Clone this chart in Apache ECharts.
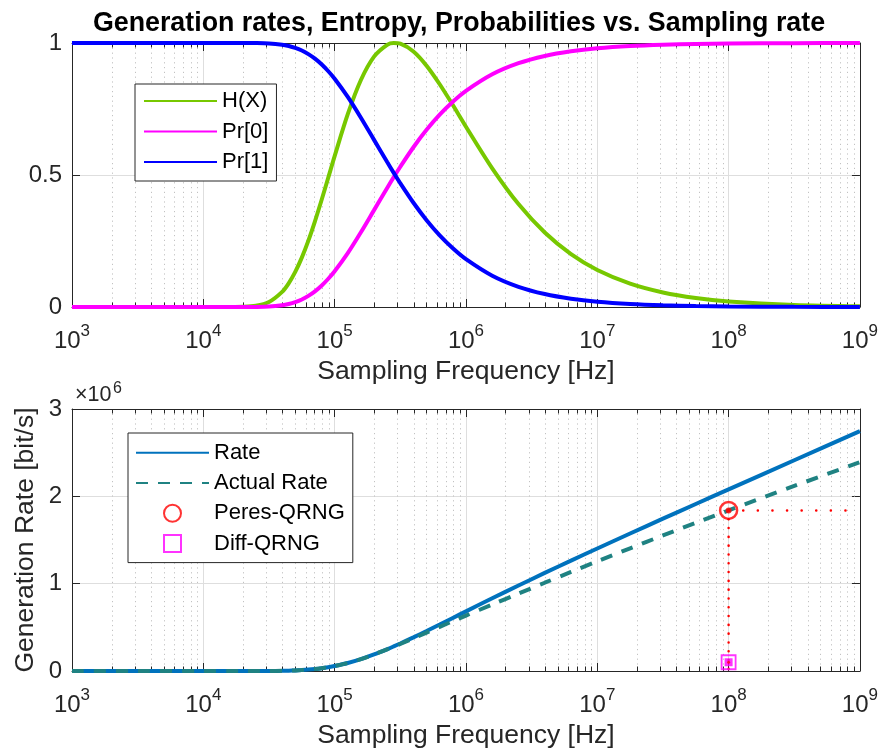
<!DOCTYPE html>
<html>
<head>
<meta charset="utf-8">
<script src="https://cdn.jsdelivr.net/npm/echarts@6/dist/echarts.min.js"></script>
<style>
html, body { margin: 0; padding: 0; background: #fff; }
#chart { width: 881px; height: 751px; }
</style>
</head>
<body>
<div id="chart"></div>
<script>
// sampling frequency [Hz]
const freq = [1000, 3162, 10000, 15849, 19953, 25119, 31623, 39811, 44668, 50119,
    56234, 63096, 70795, 79433, 89125, 100000, 125893, 158489, 199526, 251189,
    281838, 316228, 398107, 501187, 630957, 794328, 1000000, 1584893, 2511886, 3981072,
    6309573, 10000000, 17782794, 31622777, 56234133, 100000000, 316227766, 1000000000];
const entropy = [0, 0, 0, 0.0001, 0.0007, 0.0045, 0.0189, 0.0572, 0.0898, 0.1328,
    0.1870, 0.2514, 0.3247, 0.4043, 0.4877, 0.5717, 0.7303, 0.8598, 0.9484, 0.9930,
    0.9998, 0.9972, 0.9679, 0.9140, 0.8438, 0.7649, 0.6829, 0.5253, 0.3898, 0.2821,
    0.2004, 0.1403, 0.0885, 0.0552, 0.0340, 0.0208, 0.0076, 0.0027];
const prob0 = [0, 0, 0, 0, 0, 0.0003, 0.0018, 0.0066, 0.0114, 0.0185,
    0.0285, 0.0420, 0.0593, 0.0806, 0.1060, 0.1353, 0.2042, 0.2831, 0.3670, 0.4510,
    0.4918, 0.5313, 0.6051, 0.6710, 0.7284, 0.7774, 0.8187, 0.8814, 0.9235, 0.9510,
    0.9688, 0.9802, 0.9888, 0.9937, 0.9964, 0.9980, 0.9994, 0.9998];
const prob1 = [1, 1, 1, 1, 1, 0.9997, 0.9982, 0.9934, 0.9886, 0.9815,
    0.9715, 0.9580, 0.9407, 0.9194, 0.8940, 0.8647, 0.7958, 0.7169, 0.6330, 0.5490,
    0.5082, 0.4687, 0.3949, 0.3290, 0.2716, 0.2226, 0.1813, 0.1186, 0.0765, 0.0490,
    0.0312, 0.0198, 0.0112, 0.0063, 0.0036, 0.0020, 0.0006, 0.0002];
// bit/s
const rate = [0, 0, 0, 1, 14, 113, 598, 2277, 4011, 6656,
    10516, 15862, 22987, 32115, 43466, 57170, 91940, 136270, 189230, 249430,
    281780, 315340, 385330, 458090, 532400, 607580, 682900, 832550, 979130, 1123060,
    1264440, 1403200, 1574480, 1744310, 1911960, 2079600, 2413130, 2745900];
const actualRate = [0, 0, 0, 1, 14, 113, 598, 2277, 4011, 6656,
    10516, 15862, 22987, 32115, 43466, 57170, 91940, 136270, 189230, 246900,
    277500, 309000, 373800, 439800, 505800, 571100, 635100, 761800, 886100, 1010800,
    1134200, 1255900, 1404400, 1552400, 1695900, 1838400, 2118700, 2391700];
const minorTicks = [2e3, 3e3, 4e3, 5e3, 6e3, 7e3, 8e3, 9e3,
    2e4, 3e4, 4e4, 5e4, 6e4, 7e4, 8e4, 9e4,
    2e5, 3e5, 4e5, 5e5, 6e5, 7e5, 8e5, 9e5,
    2e6, 3e6, 4e6, 5e6, 6e6, 7e6, 8e6, 9e6,
    2e7, 3e7, 4e7, 5e7, 6e7, 7e7, 8e7, 9e7,
    2e8, 3e8, 4e8, 5e8, 6e8, 7e8, 8e8, 9e8];
const peresPoint = [1e8, 1.839e6];
const diffPoint = [1e8, 0.10e6];
const guideH = [[1e8, 1.839e6], [1e9, 1.839e6]];
const guideV = [[1e8, 1.839e6], [1e8, 0]];

const axisColor = '#262626';
const fontFam = '"Liberation Sans", Arial, Helvetica, sans-serif';

const pow10Rich = {
    b: { fontSize: 24, lineHeight: 31, verticalAlign: 'bottom', color: axisColor, fontFamily: fontFam },
    s: { fontSize: 17, lineHeight: 19.5, verticalAlign: 'top', color: axisColor, fontFamily: fontFam }
};

const logAxis = (gridIndex, name) => ({
    type: 'log', logBase: 10, gridIndex: gridIndex, min: 1e3, max: 1e9, splitNumber: 6,
    name: name, nameLocation: 'middle', nameGap: 51, nameMoveOverlap: false,
    nameTextStyle: { fontSize: 26.5, color: axisColor, fontFamily: fontFam },
    axisLine: { show: true, onZero: false, lineStyle: { color: axisColor, width: 1 } },
    axisTick: { show: true, inside: true, length: 8, lineStyle: { color: axisColor } },
    axisLabel: {
        formatter: v => '{b|10}{s|' + Math.round(Math.log10(v)) + '}',
        rich: pow10Rich, margin: 15.5, showMinLabel: true, showMaxLabel: true
    },
    splitLine: { show: true, lineStyle: { color: '#dedede', width: 1 } }
});

const topEdgeAxis = (gridIndex) => ({
    type: 'log', logBase: 10, gridIndex: gridIndex, min: 1e3, max: 1e9, splitNumber: 6,
    position: 'top',
    axisLine: { show: true, onZero: false, lineStyle: { color: axisColor, width: 1 } },
    axisTick: { show: true, inside: true, length: 8, lineStyle: { color: axisColor } },
    axisLabel: { show: false },
    splitLine: { show: false }
});

const valueAxis = (gridIndex, max, interval, fmt, name) => ({
    type: 'value', gridIndex: gridIndex, min: 0, max: max, interval: interval,
    name: name, nameLocation: 'middle', nameGap: 33, nameMoveOverlap: false,
    nameTextStyle: { fontSize: 26.5, color: axisColor, fontFamily: fontFam },
    axisLine: { show: true, onZero: false, lineStyle: { color: axisColor, width: 1 } },
    axisTick: { show: true, inside: true, length: 8, lineStyle: { color: axisColor } },
    axisLabel: { formatter: fmt, fontSize: 24, color: axisColor, fontFamily: fontFam, margin: 10 },
    splitLine: { show: true, lineStyle: { color: '#dedede', width: 1 } }
});

const rightEdgeAxis = (gridIndex, max, interval) => ({
    type: 'value', gridIndex: gridIndex, min: 0, max: max, interval: interval,
    position: 'right',
    axisLine: { show: true, onZero: false, lineStyle: { color: axisColor, width: 1 } },
    axisTick: { show: true, inside: true, length: 8, lineStyle: { color: axisColor } },
    axisLabel: { show: false },
    splitLine: { show: false }
});

// dotted minor grid + short minor ticks on both edges
const drawMinor = (params, api) => {
    const cs = params.coordSys;
    const x = Math.round(api.coord([api.value(0), 0])[0]) + 0.5;
    const top = cs.y, bottom = cs.y + cs.height;
    return {
        type: 'group',
        children: [
            { type: 'line', shape: { x1: x, y1: top, x2: x, y2: bottom },
              style: { stroke: '#c2c2c2', lineWidth: 1, lineDash: [1.2, 3.6] } },
            { type: 'line', shape: { x1: x, y1: bottom, x2: x, y2: bottom - 4.5 },
              style: { stroke: axisColor, lineWidth: 1 } },
            { type: 'line', shape: { x1: x, y1: top, x2: x, y2: top + 4.5 },
              style: { stroke: axisColor, lineWidth: 1 } }
        ]
    };
};

const curve = (name, ys, color, grid, extra) => Object.assign({
    name: name, type: 'line', xAxisIndex: grid * 2, yAxisIndex: grid * 2,
    data: freq.map((f, i) => [f, ys[i]]),
    symbol: 'none', smooth: 0.3, z: 3,
    lineStyle: { color: color, width: 4 },
    itemStyle: { color: color }
}, extra || {});

const noDot = { opacity: 0 };

const legendBase = {
    orient: 'vertical', itemWidth: 73, itemHeight: 17,
    backgroundColor: '#fff', borderColor: axisColor, borderWidth: 1, borderRadius: 0,
    textStyle: { fontSize: 22, lineHeight: 22, color: '#000', fontFamily: fontFam },
    selectedMode: false
};

const getOption = () => ({
    animation: false,
    grid: [
        { left: 72, top: 43, width: 790, height: 264 },
        { left: 72, top: 409, width: 790, height: 262 }
    ],
    xAxis: [
        logAxis(0, 'Sampling Frequency [Hz]'), topEdgeAxis(0),
        logAxis(1, 'Sampling Frequency [Hz]'), topEdgeAxis(1)
    ],
    yAxis: [
        valueAxis(0, 1, 0.5, v => String(v), ''), rightEdgeAxis(0, 1, 0.5),
        valueAxis(1, 3e6, 1e6, v => String(v / 1e6), 'Generation Rate [bit/s]'), rightEdgeAxis(1, 3e6, 1e6)
    ],
    legend: [
        Object.assign({}, legendBase, {
            data: [
                { name: 'H(X)', itemStyle: noDot },
                { name: 'Pr[0]', itemStyle: noDot },
                { name: 'Pr[1]', itemStyle: noDot }
            ],
            left: 135, top: 84, padding: [6, 8, 8, 8], itemGap: 8.5
        }),
        Object.assign({}, legendBase, {
            data: [
                { name: 'Rate', itemStyle: noDot },
                { name: 'Actual Rate', itemStyle: noDot },
                { name: 'Peres-QRNG' },
                { name: 'Diff-QRNG', icon: 'path://M0,0L10,0L10,10L0,10Z' }
            ],
            left: 128, top: 433, padding: [8.7, 8, 8, 7], itemGap: 8.3
        })
    ],
    graphic: [
        { type: 'text', x: 459, y: 23.6, silent: true,
          style: { text: 'Generation rates, Entropy, Probabilities vs. Sampling rate',
                   fontSize: 26.8, fontWeight: 'bold', fontFamily: fontFam, fill: '#000',
                   textAlign: 'center', textVerticalAlign: 'middle' } },
        // axis multiplier "×10^6"
        { type: 'text', x: 75, y: 395, silent: true,
          style: { text: '×10', fontSize: 21.5, fontFamily: fontFam, fill: axisColor,
                   textAlign: 'left', textVerticalAlign: 'middle' } },
        { type: 'text', x: 113, y: 389, silent: true,
          style: { text: '6', fontSize: 16, fontFamily: fontFam, fill: axisColor,
                   textAlign: 'left', textVerticalAlign: 'middle' } }
    ],
    series: [
        { type: 'custom', xAxisIndex: 0, yAxisIndex: 0, silent: true, z: 1,
          data: minorTicks.map(v => [v, 0]), renderItem: drawMinor },
        { type: 'custom', xAxisIndex: 2, yAxisIndex: 2, silent: true, z: 1,
          data: minorTicks.map(v => [v, 0]), renderItem: drawMinor },

        curve('H(X)', entropy, '#77C800', 0),
        curve('Pr[0]', prob0, '#FF00FF', 0),
        curve('Pr[1]', prob1, '#0000FF', 0),

        curve('Rate', rate, '#0072BD', 1),
        curve('Actual Rate', actualRate, '#1F8282', 1,
              { lineStyle: { color: '#1F8282', width: 4, type: [12, 10] } }),

        { type: 'line', xAxisIndex: 2, yAxisIndex: 2, data: guideH, symbol: 'none', z: 4,
          lineStyle: { color: '#FF0000', width: 2.5, type: [0.1, 14.5], cap: 'round' } },
        { type: 'line', xAxisIndex: 2, yAxisIndex: 2, data: guideV, symbol: 'none', z: 4,
          lineStyle: { color: '#FF0000', width: 2.5, type: [0.1, 8.7], cap: 'round' } },

        { name: 'Peres-QRNG', type: 'scatter', xAxisIndex: 2, yAxisIndex: 2, z: 5,
          data: [peresPoint], symbol: 'circle', symbolSize: 17,
          itemStyle: { color: 'rgba(255,255,255,0)', borderColor: '#FF0000', borderWidth: 2.5 } },
        { name: 'Diff-QRNG', type: 'scatter', xAxisIndex: 2, yAxisIndex: 2, z: 5,
          data: [diffPoint], symbol: 'rect', symbolSize: 14,
          itemStyle: { color: 'rgba(255,255,255,0)', borderColor: '#FF00FF', borderWidth: 1.8 } },
        { type: 'scatter', xAxisIndex: 2, yAxisIndex: 2, z: 5,
          data: [diffPoint], symbol: 'rect', symbolSize: 8, itemStyle: { color: '#FF00FF' } },
        { type: 'scatter', xAxisIndex: 2, yAxisIndex: 2, z: 6,
          data: [peresPoint], symbol: 'circle', symbolSize: 6, itemStyle: { color: '#FF0000' } },
        { type: 'scatter', xAxisIndex: 2, yAxisIndex: 2, z: 6,
          data: [diffPoint], symbol: 'circle', symbolSize: 3, itemStyle: { color: '#FF0000' } }
    ]
});

const initChart = () => {
    const chart = echarts.init(document.getElementById('chart'));
    chart.setOption(getOption());
};

window.addEventListener('load', () => {
    initChart();
});
</script>
</body>
</html>
